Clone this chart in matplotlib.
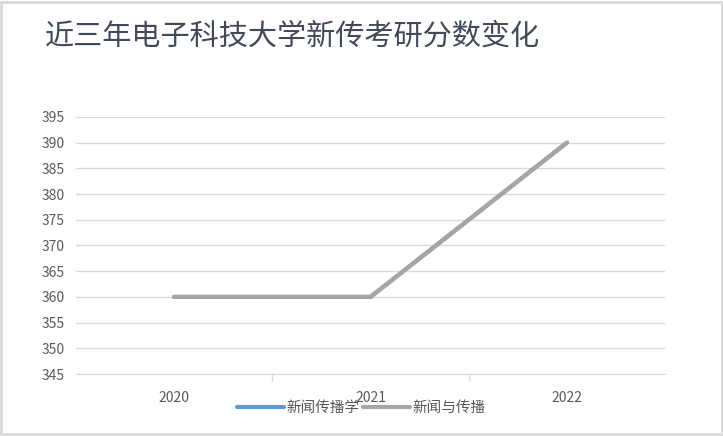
import matplotlib
matplotlib.use("Agg")
import matplotlib.pyplot as plt
from matplotlib.patches import Rectangle

plt.rcParams['font.family'] = ['Noto Sans CJK SC', 'DejaVu Sans']

years = ['2020', '2021', '2022']
xinwen_chuanboxue = [360, 360, 390]
xinwen_yu_chuanbo = [360, 360, 390]
y_ticks = [345, 350, 355, 360, 365, 370, 375, 380, 385, 390, 395]

fig = plt.figure(figsize=(7.23, 4.36), dpi=100)
ax = fig.add_axes([0.105, 0.142, 0.815, 0.590])

x = range(len(years))
ax.plot(x, xinwen_chuanboxue, color='#5b9bd5', linewidth=3, label='新闻传播学',
        solid_capstyle='round')
ax.plot(x, xinwen_yu_chuanbo, color='#a5a5a5', linewidth=3, label='新闻与传播',
        solid_capstyle='round')

ax.set_xlim(-0.5, 2.5)
ax.set_ylim(345, 395)
ax.set_yticks(y_ticks)
ax.set_xticks(list(x))
ax.set_xticklabels(years)
ax.set_xticks([0.5, 1.5], minor=True)
ax.tick_params(axis='x', which='major', length=0, pad=12, labelsize=10, colors='#595959')
ax.tick_params(axis='x', which='minor', length=5, color='#d9d9d9', width=1, direction='out')
ax.tick_params(axis='y', length=0, pad=8, labelsize=10, colors='#595959')
ax.grid(axis='y', color='#d9d9d9', linewidth=1)
ax.set_axisbelow(True)
for s in ['top', 'right', 'left']:
    ax.spines[s].set_visible(False)
ax.spines['bottom'].set_color('#d9d9d9')

fig.text(0.062, 0.915, '近三年电子科技大学新传考研分数变化', fontsize=21,
         color='#404a5a', ha='left', va='center')

leg = fig.legend(loc='center', bbox_to_anchor=(0.5, 0.065), ncol=2, frameon=False,
                 fontsize=10.5, handlelength=3.2, handletextpad=0.2, columnspacing=0.2)
for t in leg.get_texts():
    t.set_color('#595959')

fig.patches.append(Rectangle((0.002, 0.004), 0.996, 0.992, transform=fig.transFigure,
                             fill=False, edgecolor='#d9d9d9', linewidth=2))

fig.savefig('out.png', dpi=100)
